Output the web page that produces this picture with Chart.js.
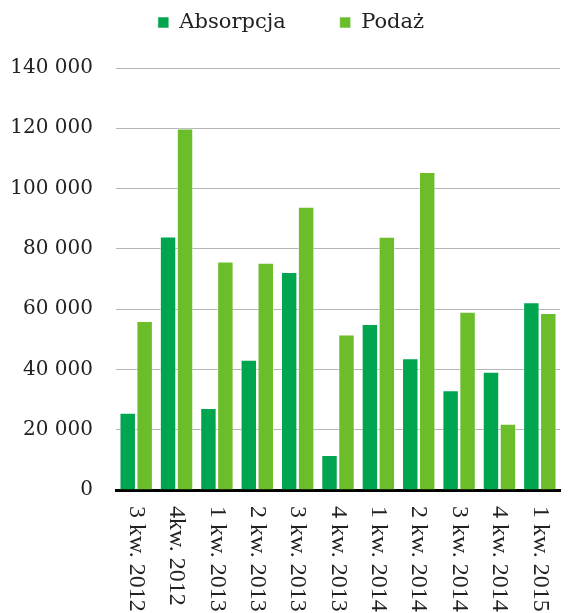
<!DOCTYPE html>
<html>
<head>
<meta charset="utf-8">
<script src="https://cdn.jsdelivr.net/npm/chart.js@4"></script>
<style>
  html, body { margin: 0; padding: 0; background: #fff; }
  #wrap { width: 569px; height: 613px; position: relative; }
</style>
</head>
<body>
<div id="wrap"><canvas id="chart"></canvas></div>
<script>
//*Data
const quarters = ['3 kw. 2012', '4kw. 2012', '1 kw. 2013', '2 kw. 2013', '3 kw. 2013', '4 kw. 2013',
  '1 kw. 2014', '2 kw. 2014', '3 kw. 2014', '4 kw. 2014', '1 kw. 2015']
const absorpcja = [25600, 84100, 27200, 43250, 72300, 11600, 55100, 43700, 33100, 39200, 62300]
const podaz = [56100, 119900, 75800, 75400, 94000, 51600, 84000, 105500, 59100, 22000, 58700]
const yTicks = [0, 20000, 40000, 60000, 80000, 100000, 120000, 140000]

//*Colors
const darkGreen = '#00a54f'
const lightGreen = '#6bbd2a'
const serif = 'DejaVu Serif'

Chart.defaults.font.family = serif
Chart.defaults.color = '#222'

//? x labels read top to bottom, so draw them by hand at the tick positions
const xLabels = {
  id: 'xLabels',
  afterDraw(chart) {
    const ctx = chart.ctx
    const xs = chart.scales.x
    ctx.save()
    ctx.font = '24px "Liberation Serif", serif'
    ctx.fillStyle = '#222'
    ctx.textAlign = 'left'
    ctx.textBaseline = 'middle'
    quarters.forEach((q, i) => {
      ctx.save()
      ctx.translate(xs.getPixelForTick(i), xs.top + 16)
      ctx.rotate(Math.PI / 2)
      ctx.fillText(q, 0, 0)
      ctx.restore()
    })
    ctx.restore()
  }
}

//? legend: wide gap between items, but keep it near the top
const legendSpace = {
  id: 'legendSpace',
  beforeInit(chart) {
    const fit = chart.legend.fit
    chart.legend.fit = function () {
      fit.call(this)
      this.height = 68
    }
  },
  afterLayout(chart) {
    const lg = chart.legend
    lg.top -= 42
    lg.left += 11
    lg.right += 11
  }
}

new Chart(document.getElementById('chart'), {
  type: 'bar',
  data: {
    labels: quarters,
    datasets: [
      {
        label: 'Absorpcja',
        data: absorpcja,
        backgroundColor: darkGreen,
        borderColor: 'rgba(255,255,255,0.55)',
        borderWidth: 1,
      },
      {
        label: 'Podaż',
        data: podaz,
        backgroundColor: lightGreen,
        borderColor: 'rgba(255,255,255,0.55)',
        borderWidth: 1,
      },
    ],
  },
  options: {
    responsive: true,
    maintainAspectRatio: false,
    animation: false,
    layout: { padding: { top: 0, right: 9, left: 0, bottom: 0 } },
    datasets: { bar: { categoryPercentage: 0.84, barPercentage: 0.97 } },
    plugins: {
      tooltip: { enabled: false },
      legend: {
        position: 'top',
        labels: {
          boxWidth: 11,
          boxHeight: 11,
          padding: 54,
          font: { size: 21, family: serif },
          color: '#222',
        },
      },
    },
    scales: {
      x: {
        grid: { display: false },
        border: { display: true, color: '#000', width: 3 },
        ticks: { display: false },
        afterFit(scale) { scale.height = 123 },
      },
      y: {
        min: 0,
        max: 140000,
        afterBuildTicks(scale) { scale.ticks = yTicks.map(v => ({ value: v })) },
        afterFit(scale) { scale.width = 116 },
        border: { display: false },
        grid: { color: '#b5b5b5', lineWidth: 1, drawTicks: false },
        ticks: {
          padding: 23,
          font: { size: 20, family: serif },
          color: '#222',
          callback: v => v === 0 ? '0' : (v / 1000) + ' 000',
        },
      },
    },
  },
  plugins: [xLabels, legendSpace],
})
</script>
</body>
</html>
